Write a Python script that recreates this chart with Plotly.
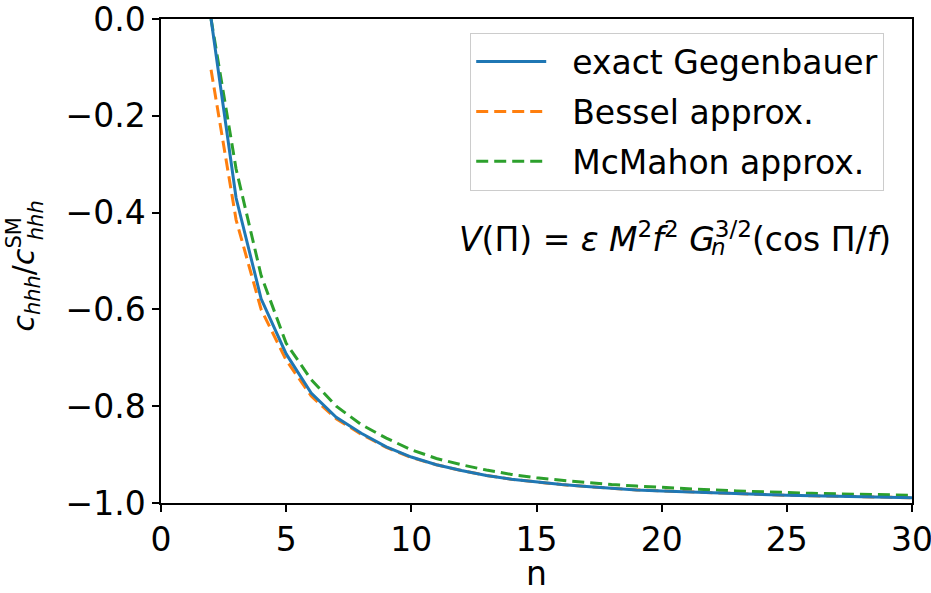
import plotly.graph_objects as go

# n values (integer Gegenbauer degree)
n_vals = list(range(2, 31))

exact_gegenbauer = [0.0, -0.37, -0.578, -0.692, -0.773, -0.823, -0.856, -0.884, -0.905,
                    -0.921, -0.933, -0.943, -0.951, -0.957, -0.962, -0.966, -0.970,
                    -0.973, -0.975, -0.977, -0.979, -0.981, -0.982, -0.984, -0.985,
                    -0.986, -0.987, -0.988, -0.989]

bessel_approx = [-0.105, -0.415, -0.600, -0.705, -0.779, -0.826, -0.858, -0.885, -0.906,
                 -0.921, -0.933, -0.943, -0.951, -0.957, -0.962, -0.966, -0.970,
                 -0.973, -0.975, -0.977, -0.979, -0.981, -0.982, -0.984, -0.985,
                 -0.986, -0.987, -0.988, -0.989]

mcmahon_approx = [0.0, -0.31, -0.53, -0.67, -0.745, -0.80, -0.838, -0.866, -0.890,
                  -0.908, -0.921, -0.932, -0.941, -0.948, -0.953, -0.958, -0.962,
                  -0.965, -0.968, -0.971, -0.973, -0.975, -0.977, -0.979, -0.980,
                  -0.981, -0.982, -0.983, -0.984]

x_tickvals = [0, 5, 10, 15, 20, 25, 30]
y_tickvals = [0.0, -0.2, -0.4, -0.6, -0.8, -1.0]
y_ticktext = ["0.0", "\u22120.2", "\u22120.4", "\u22120.6", "\u22120.8", "\u22121.0"]

FONT = "DejaVu Sans"
FS = 33
NB = "\u00a0\u00a0"
fig = go.Figure()

fig.add_trace(go.Scatter(x=n_vals, y=bessel_approx, mode="lines", name=NB + "Bessel approx.",
                         line=dict(color="#ff7f0e", width=3, dash="12px,6px"),
                         legendrank=2, legendgroup="b"))
fig.add_trace(go.Scatter(x=n_vals, y=mcmahon_approx, mode="lines", name=NB + "McMahon approx.",
                         line=dict(color="#2ca02c", width=3, dash="12px,6px"),
                         legendrank=3, legendgroup="c"))
fig.add_trace(go.Scatter(x=n_vals, y=exact_gegenbauer, mode="lines", name=NB + "exact Gegenbauer",
                         line=dict(color="#1f77b4", width=3),
                         legendrank=1, legendgroup="a"))

axis_common = dict(showgrid=False, zeroline=False, showline=True, linecolor="black",
                   linewidth=1.5, mirror=True, ticks="outside", ticklen=7, tickwidth=1.5,
                   tickcolor="black", automargin=False, ticklabeloverflow="allow",
                   tickfont=dict(family=FONT, size=FS, color="black"))

fig.update_xaxes(range=[0, 30], tickvals=x_tickvals,
                 title=dict(text="n", font=dict(family=FONT, size=FS, color="black"), standoff=12),
                 **axis_common)
YT_FS = 30
fig.update_yaxes(range=[-1.0, 0.0], tickvals=y_tickvals, ticktext=y_ticktext,
                 title=dict(text="<i>c</i><sub><i>hhh</i></sub>/<i>c</i><sup>SM</sup><sub>\u00a0\u00a0\u00a0\u00a0</sub>",
                            font=dict(family=FONT, size=YT_FS, color="black"), standoff=22),
                 **axis_common)
# stacked subscript of the y-axis title (under the SM superscript)
fig.add_annotation(text="<i>hhh</i>", xref="paper", yref="paper", x=-0.166, y=0.585,
                   xanchor="center", yanchor="middle", textangle=-90, showarrow=False,
                   font=dict(family=FONT, size=21, color="black"))

fig.add_annotation(
    text="<i>V</i>(\u03a0) = <i>\u03b5 M</i><sup>2</sup><i>f</i><sup>2</sup> <i>G</i><sup>3/2</sup>(cos \u03a0/<i>f</i>)",
    xref="paper", yref="paper", x=0.975, y=0.548, xanchor="right", yanchor="middle",
    showarrow=False, font=dict(family=FONT, size=FS, color="black"))
# stacked subscript n of G
fig.add_annotation(text="<i>n</i>", xref="paper", yref="paper", x=0.743, y=0.529,
                   xanchor="center", yanchor="middle", showarrow=False,
                   font=dict(family=FONT, size=23, color="black"))

fig.update_layout(
    width=931, height=593,
    margin=dict(l=161, r=19, t=19, b=90),
    paper_bgcolor="white", plot_bgcolor="white",
    font=dict(family=FONT, size=FS, color="black"),
    legend=dict(x=0.963, y=0.972, xanchor="right", yanchor="top",
                bgcolor="white", bordercolor="#cccccc", borderwidth=1,
                font=dict(family=FONT, size=FS, color="black"),
                itemwidth=70, tracegroupgap=4),
    showlegend=True,
)

fig.write_html("out.html")
